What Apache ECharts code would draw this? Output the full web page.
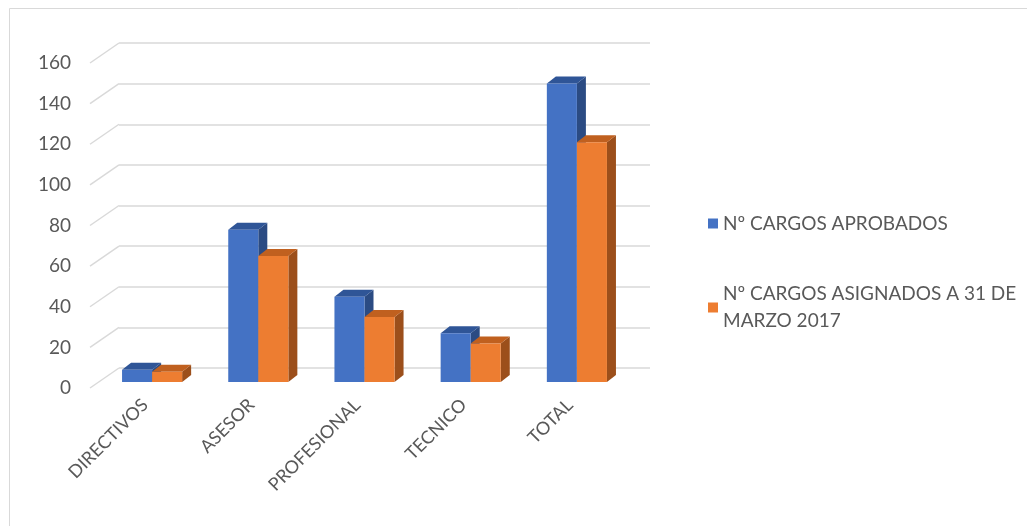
<!DOCTYPE html>
<html>
<head>
<meta charset="utf-8">
<script src="https://cdn.jsdelivr.net/npm/echarts@6/dist/echarts.min.js"></script>
<style>
  html, body { margin: 0; padding: 0; background: #fff; }
  #chart { width: 1027px; height: 526px; }
</style>
</head>
<body>
<div id="chart"></div>
<script>
var categories = ['DIRECTIVOS', 'ASESOR', 'PROFESIONAL', 'TECNICO', 'TOTAL'];
var aprobados = [6, 75, 42, 24, 147];
var asignados = [5, 62, 32, 19, 118];
var ticks = [0, 20, 40, 60, 80, 100, 120, 140, 160];
var names = ['Nº CARGOS APROBADOS', 'Nº CARGOS ASIGNADOS A 31 DE MARZO 2017'];

var FONT = 'Lato';
var DEPTH = [27, -20];   // floor depth (front -> back wall)
var BAR_OFF = [7, -6];   // bar front plane inside the floor
var BAR_D = [9, -7];     // bar depth

var faces = [
    { front: '#4472C4', top: '#2F5597', side: '#2B4B83' },
    { front: '#ED7D31', top: '#C0601F', side: '#9C4F1B' }
];

function barRender(k) {
    return function (params, api) {
        var i = api.value(0);
        var base = api.coord([i, 0]);
        var top = api.coord([i, api.value(1)]);
        var bw = api.size([1, 0])[0] * 0.283;
        var x0 = base[0] - bw + k * bw + BAR_OFF[0];
        var ty = top[1] + BAR_OFF[1];
        var by = base[1] + BAR_OFF[1];
        var c = faces[k];
        return {
            type: 'group',
            children: [
                { type: 'polygon', shape: { points: [[x0 + bw, ty], [x0 + bw + BAR_D[0], ty + BAR_D[1]], [x0 + bw + BAR_D[0], by + BAR_D[1]], [x0 + bw, by]] }, style: { fill: c.side } },
                { type: 'polygon', shape: { points: [[x0, ty], [x0 + bw, ty], [x0 + bw + BAR_D[0], ty + BAR_D[1]], [x0 + BAR_D[0], ty + BAR_D[1]]] }, style: { fill: c.top } },
                { type: 'rect', shape: { x: x0, y: ty, width: bw, height: by - ty }, style: { fill: c.front } }
            ]
        };
    };
}

var myChart = echarts.init(document.getElementById('chart'));
option = {
    backgroundColor: '#fff',
    animation: false,
    graphic: [{
        type: 'rect', silent: true,
        shape: { x: 9.5, y: 8.5, width: 1200, height: 700 },
        style: { fill: null, stroke: '#d9d9d9', lineWidth: 1 }
    }],
    grid: [
        { left: 92, top: 63, right: 404, bottom: 138 },
        { left: 92 + DEPTH[0], top: 63 + DEPTH[1], right: 404 - DEPTH[0], bottom: 138 - DEPTH[1] }
    ],
    xAxis: [
        {
            type: 'category', data: categories, gridIndex: 0,
            axisLine: { show: false }, axisTick: { show: false },
            axisLabel: { rotate: 45, margin: 14, color: '#595959', fontSize: 18, fontFamily: FONT }
        },
        { type: 'category', data: categories, gridIndex: 1, show: false }
    ],
    yAxis: [
        {
            type: 'value', gridIndex: 0, min: 0, max: 160, interval: 20,
            splitLine: { show: false },
            axisLabel: { margin: 21, color: '#595959', fontSize: 19, fontFamily: FONT }
        },
        {
            type: 'value', gridIndex: 1, min: 0, max: 160, interval: 20,
            axisLabel: { show: false },
            splitLine: { lineStyle: { color: '#d9d9d9', width: 1.5 } }
        }
    ],
    legend: [
        {
            data: [names[0]], left: 703, top: 205, icon: 'rect', itemWidth: 10, itemHeight: 10,
            textStyle: { color: '#595959', fontSize: 19, fontFamily: FONT, lineHeight: 27 }
        },
        {
            data: [names[1]], left: 703, top: 262, icon: 'rect', itemWidth: 10, itemHeight: 10,
            formatter: function () { return 'Nº CARGOS ASIGNADOS A 31 DE\nMARZO 2017'; },
            textStyle: { color: '#595959', fontSize: 19, fontFamily: FONT, lineHeight: 27, padding: [27, 0, 0, 0] }
        }
    ],
    series: [
        {
            type: 'custom', name: 'walls', xAxisIndex: 0, yAxisIndex: 0, silent: true,
            data: ticks.map(function (t) { return [0, t]; }),
            renderItem: function (params, api) {
                var cs = params.coordSys;
                var y = api.coord([0, api.value(1)])[1];
                return {
                    type: 'line',
                    shape: { x1: cs.x - 2, y1: y, x2: cs.x + DEPTH[0], y2: y + DEPTH[1] },
                    style: { stroke: '#d9d9d9', lineWidth: 1.5 }
                };
            }
        },
        {
            type: 'custom', name: names[0], xAxisIndex: 0, yAxisIndex: 0,
            itemStyle: { color: faces[0].front },
            data: aprobados.map(function (v, i) { return [i, v]; }),
            renderItem: barRender(0)
        },
        {
            type: 'custom', name: names[1], xAxisIndex: 0, yAxisIndex: 0,
            itemStyle: { color: faces[1].front },
            data: asignados.map(function (v, i) { return [i, v]; }),
            renderItem: barRender(1)
        }
    ]
};
myChart.setOption(option);
</script>
</body>
</html>
